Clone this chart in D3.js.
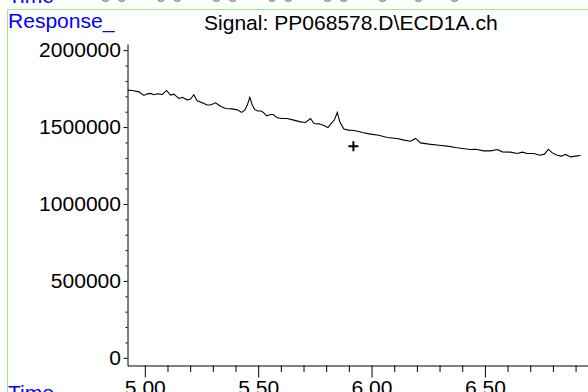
<!DOCTYPE html>
<html>
<head>
<meta charset="utf-8">
<script src="https://cdn.jsdelivr.net/npm/d3@7"></script>
<style>
  html,body{margin:0;padding:0;background:#fff;}
  svg{display:block;font-family:"Liberation Sans",Arial,sans-serif;}
</style>
</head>
<body>
<svg id="chart" width="588" height="392"></svg>
<script>
// retention time (min) and detector response
var times=[4.924,4.944,4.974,4.996,5.011,5.025,5.040,5.055,5.077,5.096,5.113,5.128,5.150,5.165,5.187,5.202,5.216,5.231,5.253,5.275,
  5.290,5.312,5.334,5.356,5.386,5.408,5.427,5.441,5.452,5.463,5.474,5.484,5.498,5.514,5.525,5.537,5.555,5.566,5.584,5.606,
  5.628,5.657,5.687,5.709,5.731,5.746,5.768,5.790,5.808,5.822,5.837,5.849,5.860,5.878,5.900,5.922,5.949,5.959,5.996,6.032,
  6.069,6.113,6.143,6.172,6.194,6.216,6.253,6.297,6.334,6.371,6.400,6.437,6.459,6.496,6.525,6.555,6.577,6.613,6.643,6.665,
  6.687,6.716,6.743,6.763,6.780,6.797,6.819,6.837,6.856,6.878,6.900,6.922]
var response=[1740000,1738000,1729000,1706000,1716000,1719000,1710000,1716000,1712000,1738000,1708000,1714000,1686000,1693000,1677000,1682000,1710000,1671000,1658000,1643000,
  1643000,1658000,1636000,1621000,1618000,1612000,1595000,1610000,1643000,1693000,1643000,1615000,1604000,1604000,1592000,1573000,1582000,1582000,1560000,1556000,
  1556000,1545000,1534000,1530000,1556000,1523000,1521000,1510000,1497000,1523000,1549000,1595000,1534000,1488000,1480000,1478000,1469000,1465000,1454000,1447000,
  1432000,1426000,1415000,1408000,1426000,1397000,1389000,1382000,1376000,1367000,1361000,1354000,1356000,1345000,1345000,1354000,1339000,1337000,1328000,1337000,
  1328000,1328000,1317000,1324000,1356000,1332000,1317000,1311000,1322000,1306000,1311000,1315000]
var xMajor=[5.0,5.5,6.0,6.5]
var xMinor=[5.1,5.2,5.3,5.4,5.6,5.7,5.8,5.9,6.1,6.2,6.3,6.4,6.6,6.7,6.8,6.9]
var yMajor=[0,500000,1000000,1500000,2000000]
var yMinor=[100000,200000,300000,400000,600000,700000,800000,900000,1100000,1200000,1300000,1400000,1600000,1700000,1800000,1900000]
var cursor=[5.92,1376000]
var topLabels=["0 0","0 0","0 0","0 0","0 0","0","0","0"]

var svg=d3.select("#chart")
var x=d3.scaleLinear().domain([4.9236,6.957]).range([127.5,588.5])
var y=d3.scaleLinear().domain([-50000,2040000]).range([365.5,44])
var sx=1.08

// frame lines from the instrument report
svg.append('path')
  .attr('d','M7.5,392V9.5H588')
  .attr('fill','none').attr('stroke','#95ee95').attr('stroke-width',1)

// cut-off header of the panel above
svg.append('text').attr('x',8).attr('y',3).attr('fill','#0000ff')
  .attr('font-size',19.5).attr('transform','translate(8,0) scale(1.08,1) translate(-8,0)').text('Time')
svg.append('g').selectAll('text').data(topLabels).join('text')
  .attr('x',(d,i)=>i<5?100+i*55.5:377+(i-5)*36).attr('y',1.5).attr('fill','#999').attr('font-size',19.5)
  .text(d=>d)

svg.append('text').attr('x',8).attr('y',28.5).attr('fill','#0000ff').attr('font-size',19.5)
  .attr('transform','translate(8,0) scale(1.08,1) translate(-8,0)').text('Response_')
svg.append('text').attr('x',204).attr('y',30).attr('fill','#000').attr('font-size',19.5)
  .attr('transform','translate(204,0) scale(1.08,1) translate(-204,0)').text('Signal: PP068578.D\\ECD1A.ch')
svg.append('text').attr('x',8).attr('y',400).attr('fill','#0000ff').attr('font-size',19.5)
  .attr('transform','translate(8,0) scale(1.08,1) translate(-8,0)').text('Time')

// y axis
var gy=svg.append('g').attr('transform','translate(127.5,0)')
gy.call(d3.axisLeft(y).tickValues(yMinor).tickSize(2).tickSizeOuter(0).tickFormat(''))
var gy2=svg.append('g').attr('transform','translate(127.5,0)')
gy2.call(d3.axisLeft(y).tickValues(yMajor).tickSize(4).tickSizeOuter(0).tickPadding(2).tickFormat(d3.format('d')))
gy2.select('.domain').remove()

// x axis
var gx=svg.append('g').attr('transform','translate(0,365.5)')
gx.call(d3.axisBottom(x).tickValues(xMinor).tickSize(6.5).tickSizeOuter(0).tickFormat(''))
var gx2=svg.append('g').attr('transform','translate(0,365.5)')
gx2.call(d3.axisBottom(x).tickValues(xMajor).tickSize(12).tickSizeOuter(0).tickPadding(4).tickFormat(d3.format('.2f')))
gx2.select('.domain').remove()

svg.selectAll('.tick text').attr('font-size',19.5).attr('font-family','"Liberation Sans",Arial,sans-serif')
  .attr('fill','#000').attr('transform','scale('+sx+',1)')
svg.selectAll('.domain,.tick line').attr('stroke','#000')

// trace
var pts=times.map((t,i)=>[t,response[i]])
svg.append('path').datum(pts)
  .attr('d',d3.line().x(d=>x(d[0])).y(d=>y(d[1])))
  .attr('fill','none').attr('stroke','#000').attr('stroke-width',1.1)

// cursor mark
var cx=x(cursor[0]),cy=y(cursor[1])
svg.append('path')
  .attr('d',`M${cx-5},${cy}H${cx+5}M${cx},${cy-5}V${cy+5}`)
  .attr('stroke','#000').attr('stroke-width',2).attr('fill','none')
</script>
</body>
</html>
